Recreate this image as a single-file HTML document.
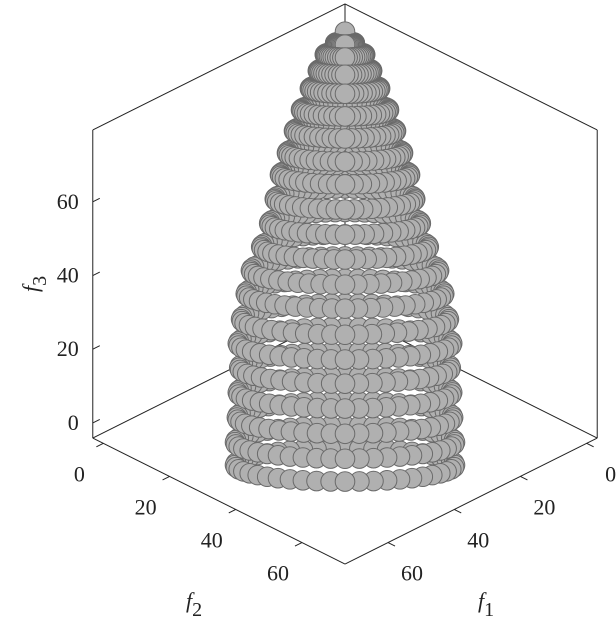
<!DOCTYPE html>
<html><head><meta charset="utf-8"><style>
body{margin:0;background:#fff}
svg{display:block}
text{font-family:"Liberation Serif",serif;font-size:22px;fill:#222}
</style></head><body>
<svg id="chart" width="616" height="618" viewBox="0 0 616 618" xmlns="http://www.w3.org/2000/svg">
<g id="box" stroke="#222" stroke-width="1" fill="none"></g>
<g id="ticks" stroke="#222" stroke-width="1"></g>
<g id="labels"></g>
<g id="points"></g>
<text x="478" y="608" font-style="italic" font-size="26">f<tspan font-style="normal" font-size="20" dy="8">1</tspan></text>
<text x="186" y="608" font-style="italic" font-size="26">f<tspan font-style="normal" font-size="20" dy="8">2</tspan></text>
<text transform="translate(38,292) rotate(-90)" font-style="italic" font-size="26">f<tspan font-style="normal" font-size="20" dy="8">3</tspan></text>
</svg>
<script>
// ring levels (f3 height at ring centre) and ring radii in f1-f2 plane
const levelF3 = [-10.9,-4.7,2.0,8.8,15.5,22.1,28.7,35.6,41.9,48.3,54.7,61.3,67.9,73.8,79.8,85.5,91.3,96.1,100.5,103.6,106.7];
const levelRadius = [23.5,23.5,23.1,22.9,22.6,22.9,22.2,21.2,20.1,17.9,16.2,15,13.9,12.4,10.9,9.4,7.5,5.8,4.3,2.1,0];
const centerF1 = 35.5, centerF2 = 35.5;
const ringTilt = 0.314;
const pointsPerRing = 48;
const tickValsXY = [0,20,40,60];
const tickValsZ = [0,20,40,60];
const xyMin = -3.2, xyMax = 73, zMin = -4.1, zMax = 79.5;

const NS = "http://www.w3.org/2000/svg";
const AX = 3.31, BY = 1.654, CZ = 3.685, X0 = 345, Y0 = 312;
function px(f1,f2){ return X0 - (f1 - f2) * AX; }
function py(f1,f2,f3){ return Y0 + (f1 - xyMin + f2 - xyMin) * BY - (f3 - zMin) * CZ; }
function mk(tag, attrs, parent){ const e=document.createElementNS(NS,tag); for(const k in attrs) e.setAttribute(k,attrs[k]); parent.appendChild(e); return e; }
function line(a,b,parent){ return mk('line',{x1:px(a[0],a[1]),y1:py(a[0],a[1],a[2]),x2:px(b[0],b[1]),y2:py(b[0],b[1],b[2])},parent); }

const box = document.getElementById('box');
const L=xyMin, H=xyMax;
const edges = [
 [[L,L,zMin],[H,L,zMin]],[[L,L,zMin],[L,H,zMin]],[[H,L,zMin],[H,H,zMin]],[[L,H,zMin],[H,H,zMin]],
 [[L,L,zMin],[L,L,zMax]],[[H,L,zMin],[H,L,zMax]],[[L,H,zMin],[L,H,zMax]],
 [[L,L,zMax],[H,L,zMax]],[[L,L,zMax],[L,H,zMax]]
];
edges.forEach(e=>{ const l=line(e[0],e[1],box);
  
   });

const ticks = document.getElementById('ticks');
const labels = document.getElementById('labels');
tickValsXY.forEach(v=>{
  const x=px(H,v), y=py(H,v,zMin);
  const t=mk('line',{x1:x,y1:y,x2:x-7,y2:y+3.5},ticks);
  
  
  const tx=mk('text',{x:x-24,y:y+38,'text-anchor':'middle'},labels); tx.textContent=v;
  
  
  const x2=px(v,H), y2=py(v,H,zMin);
  const t2=mk('line',{x1:x2,y1:y2,x2:x2+7,y2:y2+3.5},ticks);
  
  
  const tx2=mk('text',{x:x2+24,y:y2+38,'text-anchor':'middle'},labels); tx2.textContent=v;
  
  
});
tickValsZ.forEach(v=>{
  const x=px(H,L), y=py(H,L,v);
  const t=mk('line',{x1:x,y1:y,x2:x+7,y2:y-3.5},ticks);
  
  
  const tx=mk('text',{x:x-14,y:y+7,'text-anchor':'end'},labels); tx.textContent=v;
  
  
});

const pts=[];
levelF3.forEach((z,i)=>{
  const r=levelRadius[i];
  const n = r===0 ? 1 : pointsPerRing;
  for(let k=0;k<n;k++){
    const th = 2*Math.PI*k/n + Math.PI/4;
    const f1=centerF1+r*Math.cos(th), f2=centerF2+r*Math.sin(th);
    const depth = f1+f2-centerF1-centerF2;
    pts.push({f1,f2,z:z+ringTilt*depth,d:f1+f2});
  }
});
pts.sort((a,b)=> (a.d - b.d) || (a.z - b.z));
const pg=document.getElementById('points');
pts.forEach(p=>{
  const c=mk('circle',{cx:px(p.f1,p.f2).toFixed(2),cy:py(p.f1,p.f2,p.z).toFixed(2),r:9.8,fill:'#b0b0b0',stroke:'#6a6a6a','stroke-width':1},pg);
  
  
});
</script>
</body></html>
